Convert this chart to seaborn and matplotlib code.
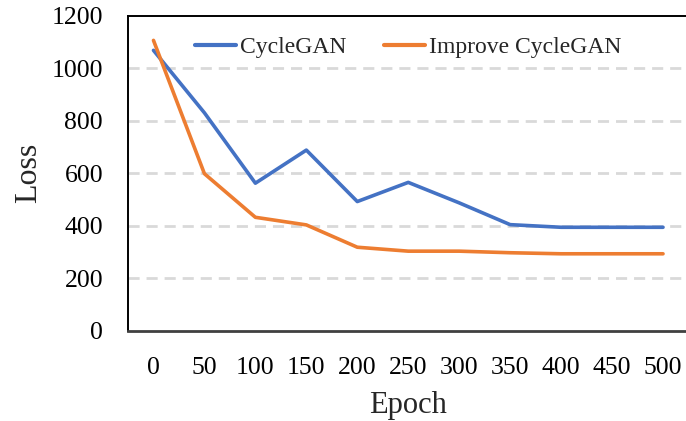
import matplotlib
matplotlib.use("Agg")
import matplotlib.pyplot as plt
import seaborn as sns
import pandas as pd

epochs = ["0", "50", "100", "150", "200", "250", "300", "350", "400", "450", "500"]
cyclegan = [1068, 830, 562, 688, 492, 565, 487, 404, 394, 394, 394]
improved = [1106, 598, 432, 403, 318, 303, 303, 297, 293, 293, 293]
series_names = ["CycleGAN", "Improve CycleGAN"]

sns.set_theme(style="white")
plt.rcParams["font.family"] = ["Liberation Serif", "DejaVu Serif"]

pos = list(range(len(epochs)))
df = pd.DataFrame({
    "pos": pos * 2,
    "Loss": cyclegan + improved,
    "Series": [series_names[0]] * len(epochs) + [series_names[1]] * len(epochs),
})

fig = plt.figure(figsize=(6.86, 4.21), dpi=100)
ax = fig.add_axes([128 / 686, 1 - 330.7 / 421, (688.5 - 128) / 686, (330.7 - 15.7) / 421])

for y in [200, 400, 600, 800, 1000]:
    ax.axhline(y, color="#D9D9D9", lw=2, ls=(0, (4, 2.5)), zorder=0)

sns.lineplot(data=df, x="pos", y="Loss", hue="Series",
             palette=["#4472C4", "#ED7D31"], lw=2.6, ax=ax, legend=True,
             solid_capstyle="round")

ax.set_xlim(-0.5, len(epochs) - 0.5)
ax.set_ylim(0, 1200)
ax.set_xticks(pos)
ax.set_xticklabels(epochs)
ax.set_yticks([0, 200, 400, 600, 800, 1000, 1200])
ax.tick_params(axis="both", length=0, labelsize=18.5, colors="black")
ax.tick_params(axis="y", pad=18)
ax.tick_params(axis="x", pad=19)
ax.set_xlabel("Epoch", fontsize=22, labelpad=8.5)
ax.set_ylabel("Loss", fontsize=23, labelpad=6)

for s in ["left", "top", "right"]:
    ax.spines[s].set_color("black")
    ax.spines[s].set_linewidth(1.4)
ax.spines["bottom"].set_color("#404040")
ax.spines["bottom"].set_linewidth(2)

leg = ax.legend(loc="upper center", ncol=2, frameon=False, fontsize=17,
                handlelength=1.75, columnspacing=1.6, handletextpad=0.15,
                bbox_to_anchor=(0.5, 1.0))
for line in leg.get_lines():
    line.set_linewidth(3)

fig.savefig("out.png", dpi=100)
